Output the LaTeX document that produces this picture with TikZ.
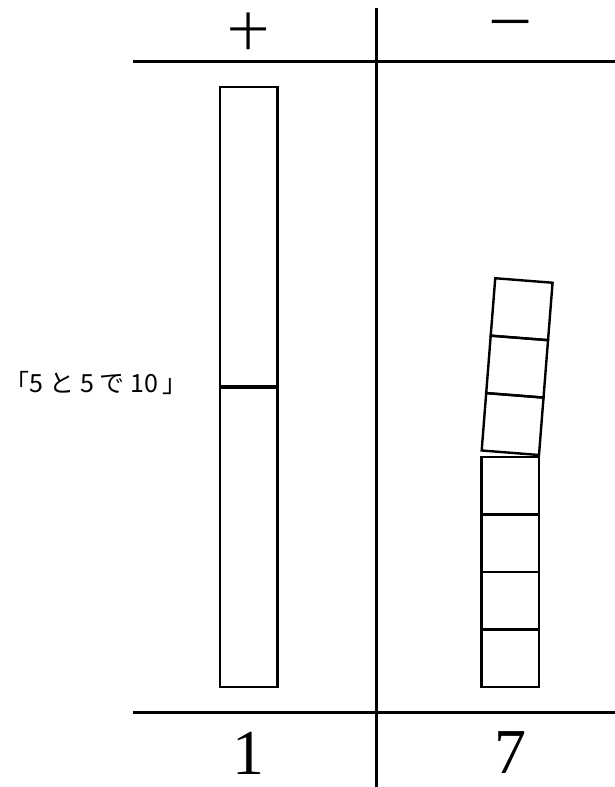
\documentclass[tikz,border=0pt]{standalone}
\usepackage{fontspec}
\usepackage{tikz}
\usetikzlibrary{positioning}
\newfontfamily\jpfont{Noto Sans CJK JP}
\newfontfamily\numfont{Liberation Serif}
\tikzset{
  rule/.style={line width=3pt, color=black},
  cube/.style={draw=black, line width=2.4pt},
  seam/.style={line width=3.6pt, color=black},
  head/.style={font=\jpfont\fontsize{40}{40}\selectfont, inner sep=0pt},
  digit/.style={font=\numfont\fontsize{64}{64}\selectfont, inner sep=0pt},
  note/.style={font=\jpfont\fontsize{25}{25}\selectfont, inner sep=0pt}
}
\newcommand{\gap}{\hspace{6pt}}

\begin{document}
\begin{tikzpicture}[x=1pt, y=-1pt]
  \useasboundingbox (0,0) rectangle (615,787);

  % Table
  \draw[rule] (133,61) -- (615,61);
  \draw[rule] (133,712) -- (615,712);
  \draw[rule] (376,8) -- (376,787);

  % Headings and results
  \node[head] (tens) at (248,31) {十};
  \node[head] (ones) at (510,29) {一};
  \node[digit] (tensval) at (248,753) {1};
  \node[digit] (onesval) at (510,753) {7};

  % Ten rod made of two fives
  \draw[cube] (220,87) rectangle (277.5,687);
  \draw[seam] (220,387) -- (277.5,387);
  \node[note] (fivefive) at (96,383) {「5\gap と\gap 5\gap で\gap 10\hspace{4pt}」};

  % Ones: four standing, three leaning
  \foreach \i in {0,...,3}
    \draw[cube] (481.5,{457+57.5*\i}) rectangle ++(57.5,57.5);
  \begin{scope}[rotate around={-4.5:(539,455)}]
    \foreach \i in {1,...,3}
      \draw[cube] (481.5,{455-57.6*\i}) rectangle ++(57.5,57.6);
  \end{scope}
\end{tikzpicture}
\end{document}
